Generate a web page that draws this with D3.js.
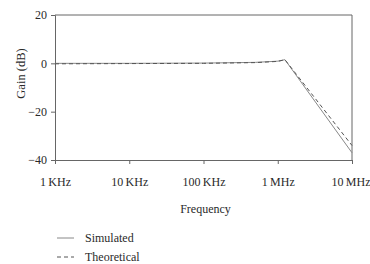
<html>
<head>
<style>
  body { margin: 0; background: #fff; }
  text { font-family: 'Liberation Serif', 'Times New Roman', serif; fill: #2a2a2a; }
</style>
</head>
<body>
<div id="chart"></div>
<script src="https://d3js.org/d3.v7.min.js"></script>
<script>
const W = 370, H = 264;
const margin = {top: 15, right: 18, bottom: 104, left: 55},
  width = W - margin.left - margin.right,
  height = H - margin.top - margin.bottom;

// frequencies in Hz
const freqs = [1e3, 1e4, 1e5, 5e5, 1e6, 1.25e6, 1e7];
const simulated = [0, 0, 0.1, 0.4, 0.9, 1.5, -37];
const theoretical = [-0.2, -0.1, 0, 0.3, 0.8, 1.5, -34];
const xTicks = [1e3, 1e4, 1e5, 1e6, 1e7];
const xTickLabels = ["1\u2009KHz", "10\u2009KHz", "100\u2009KHz", "1\u2009MHz", "10\u2009MHz"];
const yTicks = [20, 0, -20, -40];
const seriesNames = ["Simulated", "Theoretical"];

const fs = 12;
const svg = d3.select("#chart").append("svg")
  .attr("width", W).attr("height", H);
const g = svg.append("g").attr("transform", `translate(${margin.left},${margin.top})`);

const x = d3.scaleLog().domain([1e3, 1e7]).range([0, width]);
const y = d3.scaleLinear().domain([-40, 20]).range([height, 0]);

// frame top & right
g.append("path")
  .attr("d", `M0,0H${width}V${height}`)
  .attr("fill", "none").attr("stroke", "#666").attr("stroke-width", 1);

const xAxis = g.append("g").attr("transform", `translate(0,${height})`)
  .call(d3.axisBottom(x).tickValues(xTicks).tickSize(4).tickPadding(13)
    .tickFormat((d, i) => xTickLabels[i]));
const yAxis = g.append("g")
  .call(d3.axisLeft(y).tickValues(yTicks).tickSize(4).tickPadding(4)
    .tickFormat(d => d < 0 ? "\u2212" + Math.abs(d) : d));

[xAxis, yAxis].forEach(a => {
  a.select(".domain").attr("stroke", "#666");
  a.selectAll(".tick line").attr("stroke", "#666");
  a.selectAll("text").attr("font-family", "'Liberation Serif', serif")
    .attr("font-size", fs).attr("fill", "#2a2a2a");
});
// last label sits against the right edge
xAxis.selectAll(".tick text").filter((d, i) => i === xTicks.length - 1)
  .attr("text-anchor", "end").attr("x", 18);

const line = d3.line().x((d, i) => x(freqs[i])).y(d => y(d));

g.append("path").datum(simulated)
  .attr("d", line).attr("fill", "none")
  .attr("stroke", "#888").attr("stroke-width", 1);
g.append("path").datum(theoretical)
  .attr("d", line).attr("fill", "none")
  .attr("stroke", "#555").attr("stroke-width", 1).attr("stroke-dasharray", "4,3");

// axis titles
svg.append("text")
  .attr("x", margin.left + width / 2 + 2).attr("y", 213)
  .attr("text-anchor", "middle").attr("font-size", fs)
  .text("Frequency");
svg.append("text")
  .attr("transform", `translate(25,${margin.top + height / 2 - 14}) rotate(-90)`)
  .attr("text-anchor", "middle").attr("font-size", 12.5)
  .text("Gain (dB)");

// legend
const legend = svg.append("g").attr("transform", "translate(57,238)");
seriesNames.forEach((name, i) => {
  const row = legend.append("g").attr("transform", `translate(0,${i * 19})`);
  row.append("line").attr("x1", 0).attr("x2", 17).attr("y1", 0).attr("y2", 0)
    .attr("stroke", i ? "#555" : "#888")
    .attr("stroke-dasharray", i ? "4,3" : null);
  row.append("text").attr("x", 28).attr("y", 4).attr("font-size", fs).text(name);
});
</script>
</body>
</html>
